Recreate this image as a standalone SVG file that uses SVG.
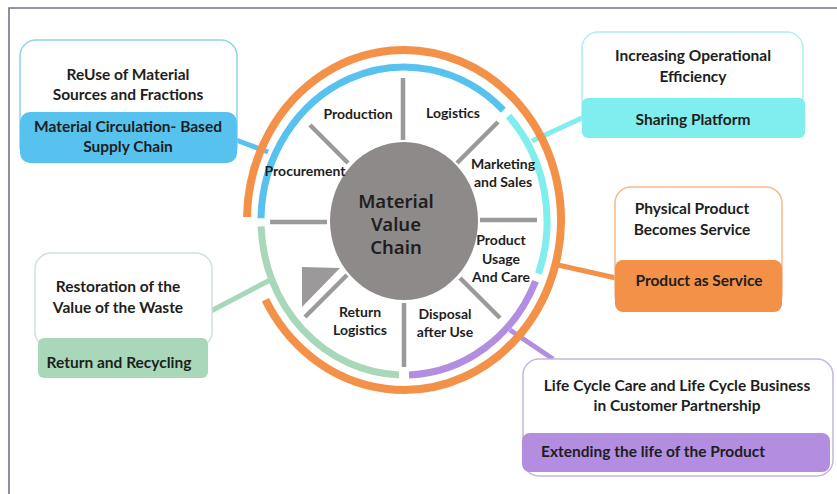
<svg xmlns="http://www.w3.org/2000/svg" width="837" height="494" viewBox="0 0 837 494">
  <style>
    .frame { fill: none; stroke: #6f7588; stroke-width: 1.6; }
    .spoke { stroke: #9b9999; stroke-width: 4.5; stroke-linecap: butt; }
    .ring { fill: none; stroke-width: 7; }
    .outer { fill: none; stroke: #f39149; stroke-width: 8; }
    .lbl { font-family: Lato, "Liberation Sans", sans-serif; font-weight: 700; font-size: 14px; fill: #1e1e1e; text-anchor: middle; }
    .box-txt { font-family: Lato, "Liberation Sans", sans-serif; font-weight: 700; font-size: 15.5px; fill: #1e1e1e; text-anchor: middle; }
    .hub-txt { font-family: "Noto Sans", "DejaVu Sans", sans-serif; font-weight: 600; font-size: 18.5px; fill: #1e1e1e; text-anchor: middle; }
    .card { fill: #ffffff; stroke-width: 1.5; }
    .conn { fill: none; stroke-width: 5; stroke-linecap: butt; }
  </style>

  <rect width="837" height="494" fill="#ffffff"/>
  <!-- page frame (top and left edges) -->
  <path class="frame" d="M9 494 V8 H837"/>

  <!-- connectors between the wheel and the cards -->
  <g id="connectors">
    <line class="conn" x1="236" y1="140" x2="268" y2="152" stroke="#58c2ee"/>
    <line class="conn" x1="584" y1="117" x2="532" y2="141" stroke="#80eeee"/>
    <line class="conn" x1="558" y1="265" x2="616" y2="278" stroke="#f39149"/>
    <line class="conn" x1="211" y1="311" x2="272" y2="279" stroke="#a8d8b9"/>
    <line class="conn" x1="510" y1="330" x2="553" y2="359" stroke="#b28de0"/>
  </g>

  <!-- value chain wheel -->
  <g id="wheel">
    <path class="outer" d="M247 217 A157 170 0 1 1 265.4 299.8"/>
    <path class="ring" stroke="#58c2ee" d="M261 218.3 A143 154 0 0 1 503.3 110.2"/>
    <path class="ring" stroke="#80eeee" d="M508.6 116 A143 154 0 0 1 538.4 273.7"/>
    <path class="ring" stroke="#b28de0" d="M535.6 281.2 A143 154 0 0 1 409 374.9"/>
    <path class="ring" stroke="#a8d8b9" d="M399 374.9 A143 154 0 0 1 261.1 226.4"/>

    <g id="spokes">
      <line class="spoke" x1="403" y1="78" x2="403" y2="140"/>
      <line class="spoke" x1="310" y1="125" x2="348" y2="163"/>
      <line class="spoke" x1="498" y1="122" x2="457" y2="163"/>
      <line class="spoke" x1="270" y1="222" x2="327" y2="222"/>
      <line class="spoke" x1="480" y1="220" x2="537" y2="220"/>
      <line class="spoke" x1="347" y1="275" x2="305" y2="317"/>
      <line class="spoke" x1="460" y1="278" x2="500" y2="318"/>
      <line class="spoke" x1="404" y1="303" x2="404" y2="367"/>
      <polygon points="302,267 340,268 302,307" fill="#9b9999"/>
    </g>

    <g id="hub">
      <ellipse cx="404" cy="221" rx="74" ry="79" fill="#8e8a8a"/>
      <text class="hub-txt" x="396" y="208">Material</text>
      <text class="hub-txt" x="396" y="231">Value</text>
      <text class="hub-txt" x="396" y="254">Chain</text>
    </g>

    <g id="stages">
      <text class="lbl" x="358" y="119">Production</text>
      <text class="lbl" x="453" y="118">Logistics</text>
      <text class="lbl" x="503" y="169">Marketing</text>
      <text class="lbl" x="503" y="187">and Sales</text>
      <text class="lbl" x="305" y="176">Procurement</text>
      <text class="lbl" x="501" y="245">Product</text>
      <text class="lbl" x="501" y="264">Usage</text>
      <text class="lbl" x="501" y="282">And Care</text>
      <text class="lbl" x="360" y="317">Return</text>
      <text class="lbl" x="360" y="335">Logistics</text>
      <text class="lbl" x="445" y="319">Disposal</text>
      <text class="lbl" x="445" y="337">after Use</text>
    </g>
  </g>

  <!-- cards -->
  <g id="card-supply-chain">
    <rect class="card" x="20" y="40" width="217" height="122" rx="16" stroke="#8fd2ee"/>
    <rect x="20" y="112" width="217" height="51" rx="10" fill="#58c2ee"/>
    <text class="box-txt" x="128" y="80">ReUse of Material</text>
    <text class="box-txt" x="128" y="100">Sources and Fractions</text>
    <text class="box-txt" x="128" y="132">Material Circulation- Based</text>
    <text class="box-txt" x="128" y="152">Supply Chain</text>
  </g>

  <g id="card-sharing">
    <rect class="card" x="582" y="32" width="221" height="105" rx="16" stroke="#aef0f0"/>
    <rect x="582" y="98" width="223" height="40" rx="6" fill="#80eeee"/>
    <text class="box-txt" x="693" y="61">Increasing Operational</text>
    <text class="box-txt" x="693" y="82">Efficiency</text>
    <text class="box-txt" x="693" y="125">Sharing Platform</text>
  </g>

  <g id="card-product-service">
    <rect class="card" x="615" y="187" width="167" height="124" rx="16" stroke="#f6b98c"/>
    <rect x="615" y="260" width="167" height="52" rx="8" fill="#f39149"/>
    <text class="box-txt" x="692" y="214">Physical Product</text>
    <text class="box-txt" x="692" y="235">Becomes Service</text>
    <text class="box-txt" x="699" y="286">Product as Service</text>
  </g>

  <g id="card-recycling">
    <rect class="card" x="35" y="253" width="177" height="95" rx="16" stroke="#cde3d4"/>
    <rect x="38" y="338" width="170" height="40" rx="6" fill="#a8d8b9"/>
    <text class="box-txt" x="118" y="292">Restoration of the</text>
    <text class="box-txt" x="118" y="313">Value of the Waste</text>
    <text class="box-txt" x="119" y="368">Return and Recycling</text>
  </g>

  <g id="card-life-extension">
    <rect class="card" x="523" y="359" width="310" height="117" rx="16" stroke="#c6b6df"/>
    <rect x="522" y="433" width="308" height="39" rx="8" fill="#b28de0"/>
    <text class="box-txt" x="677" y="391">Life Cycle Care and Life Cycle Business</text>
    <text class="box-txt" x="677" y="411">in Customer Partnership</text>
    <text class="box-txt" x="653" y="457">Extending the life of the Product</text>
  </g>
</svg>
